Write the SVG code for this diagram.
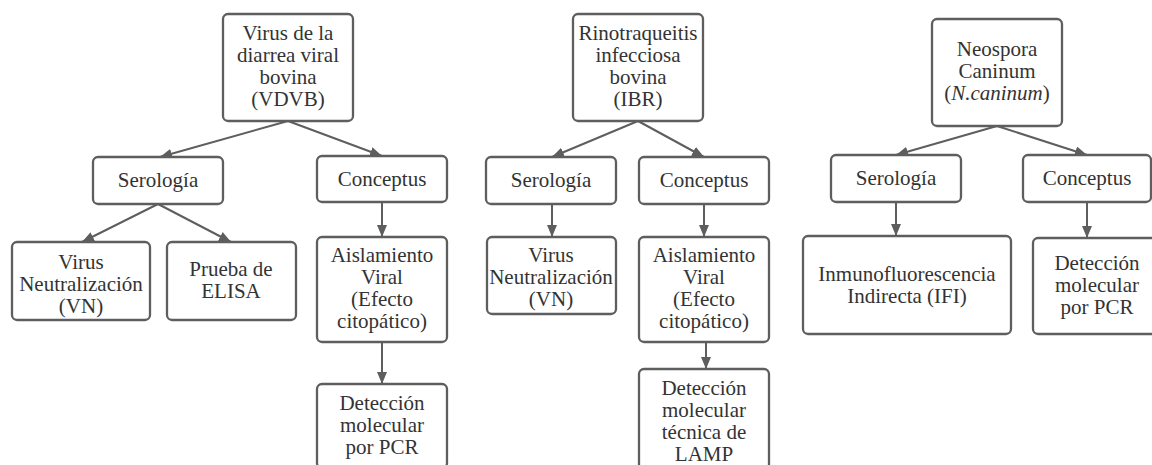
<svg xmlns="http://www.w3.org/2000/svg" width="1152" height="465" viewBox="0 0 1152 465">
<style>
.box{fill:#fff;stroke:#5e5e5e;stroke-width:2.3}
.c{stroke:#5e5e5e;stroke-width:2;fill:none;marker-end:url(#ah)}
</style>
<defs>
<marker id="ah" viewBox="0 0 12 10" refX="12" refY="5" markerWidth="12" markerHeight="10" markerUnits="userSpaceOnUse" orient="auto">
<path d="M0,0 L12,5 L0,10 z" fill="#5e5e5e"/>
</marker>
</defs>
<rect width="1152" height="465" fill="#fff"/>
<g id="connectors">
<line class="c" x1="288" y1="121" x2="160" y2="157"/>
<line class="c" x1="288" y1="121" x2="382" y2="156"/>
<line class="c" x1="158" y1="204" x2="82" y2="242"/>
<line class="c" x1="158" y1="204" x2="231" y2="242"/>
<line class="c" x1="382" y1="202" x2="382" y2="237"/>
<line class="c" x1="382" y1="342" x2="382" y2="384"/>
<line class="c" x1="638" y1="121" x2="552" y2="157"/>
<line class="c" x1="638" y1="121" x2="704" y2="157"/>
<line class="c" x1="552" y1="204" x2="552" y2="237"/>
<line class="c" x1="704" y1="204" x2="704" y2="237"/>
<line class="c" x1="706" y1="342" x2="706" y2="369"/>
<line class="c" x1="997" y1="126" x2="896" y2="155"/>
<line class="c" x1="997" y1="126" x2="1087" y2="155"/>
<line class="c" x1="896" y1="202" x2="896" y2="236"/>
<line class="c" x1="1087" y1="202" x2="1087" y2="238"/>
</g>
<g id="vdvb"><rect class="box" x="223" y="14" width="130" height="107" rx="5"/>
<text font-family="Liberation Serif" font-size="21" fill="#333" text-anchor="middle"><tspan x="288" y="40">Virus de la</tspan><tspan x="288" y="62">diarrea viral</tspan><tspan x="288" y="84">bovina</tspan><tspan x="288" y="106">(VDVB)</tspan></text></g>
<g id="vdvb-serologia"><rect class="box" x="93" y="157" width="130" height="47" rx="5"/>
<text font-family="Liberation Serif" font-size="21" fill="#333" text-anchor="middle" x="158" y="187">Serología</text></g>
<g id="vdvb-conceptus"><rect class="box" x="317" y="156" width="130" height="46" rx="5"/>
<text font-family="Liberation Serif" font-size="21" fill="#333" text-anchor="middle" x="382" y="186">Conceptus</text></g>
<g id="vdvb-vn"><rect class="box" x="12" y="242" width="138" height="78" rx="5"/>
<text font-family="Liberation Serif" font-size="21" fill="#333" text-anchor="middle"><tspan x="81" y="269">Virus</tspan><tspan x="81" y="291">Neutralización</tspan><tspan x="81" y="313">(VN)</tspan></text></g>
<g id="vdvb-elisa"><rect class="box" x="167" y="242" width="129" height="78" rx="5"/>
<text font-family="Liberation Serif" font-size="21" fill="#333" text-anchor="middle"><tspan x="231" y="276">Prueba de</tspan><tspan x="231" y="298">ELISA</tspan></text></g>
<g id="vdvb-aislamiento"><rect class="box" x="317" y="237" width="130" height="105" rx="5"/>
<text font-family="Liberation Serif" font-size="21" fill="#333" text-anchor="middle"><tspan x="382" y="262">Aislamiento</tspan><tspan x="382" y="284">Viral</tspan><tspan x="382" y="306">(Efecto</tspan><tspan x="382" y="328">citopático)</tspan></text></g>
<g id="vdvb-pcr"><rect class="box" x="317" y="384" width="130" height="84" rx="5"/>
<text font-family="Liberation Serif" font-size="21" fill="#333" text-anchor="middle"><tspan x="382" y="410">Detección</tspan><tspan x="382" y="432">molecular</tspan><tspan x="382" y="454">por PCR</tspan></text></g>
<g id="ibr"><rect class="box" x="573" y="14" width="130" height="107" rx="5"/>
<text font-family="Liberation Serif" font-size="21" fill="#333" text-anchor="middle"><tspan x="638" y="40">Rinotraqueitis</tspan><tspan x="638" y="62">infecciosa</tspan><tspan x="638" y="84">bovina</tspan><tspan x="638" y="106">(IBR)</tspan></text></g>
<g id="ibr-serologia"><rect class="box" x="486" y="157" width="130" height="47" rx="5"/>
<text font-family="Liberation Serif" font-size="21" fill="#333" text-anchor="middle" x="551" y="187">Serología</text></g>
<g id="ibr-conceptus"><rect class="box" x="639" y="157" width="130" height="47" rx="5"/>
<text font-family="Liberation Serif" font-size="21" fill="#333" text-anchor="middle" x="704" y="187">Conceptus</text></g>
<g id="ibr-vn"><rect class="box" x="487" y="237" width="129" height="77" rx="5"/>
<text font-family="Liberation Serif" font-size="21" fill="#333" text-anchor="middle"><tspan x="551" y="262">Virus</tspan><tspan x="551" y="284">Neutralización</tspan><tspan x="551" y="306">(VN)</tspan></text></g>
<g id="ibr-aislamiento"><rect class="box" x="639" y="237" width="130" height="105" rx="5"/>
<text font-family="Liberation Serif" font-size="21" fill="#333" text-anchor="middle"><tspan x="704" y="262">Aislamiento</tspan><tspan x="704" y="284">Viral</tspan><tspan x="704" y="306">(Efecto</tspan><tspan x="704" y="328">citopático)</tspan></text></g>
<g id="ibr-lamp"><rect class="box" x="639" y="369" width="130" height="104" rx="5"/>
<text font-family="Liberation Serif" font-size="21" fill="#333" text-anchor="middle"><tspan x="704" y="395">Detección</tspan><tspan x="704" y="417">molecular</tspan><tspan x="704" y="439">técnica de</tspan><tspan x="704" y="461">LAMP</tspan></text></g>
<g id="neospora"><rect class="box" x="932" y="19" width="130" height="107" rx="5"/>
<text font-family="Liberation Serif" font-size="21" fill="#333" text-anchor="middle"><tspan x="997" y="56">Neospora</tspan><tspan x="997" y="78">Caninum</tspan><tspan x="997" y="100">(<tspan font-style="italic">N.caninum</tspan>)</tspan></text></g>
<g id="neo-serologia"><rect class="box" x="831" y="155" width="130" height="47" rx="5"/>
<text font-family="Liberation Serif" font-size="21" fill="#333" text-anchor="middle" x="896" y="185">Serología</text></g>
<g id="neo-conceptus"><rect class="box" x="1023" y="155" width="128" height="47" rx="5"/>
<text font-family="Liberation Serif" font-size="21" fill="#333" text-anchor="middle" x="1087" y="185">Conceptus</text></g>
<g id="neo-ifi"><rect class="box" x="803" y="236" width="208" height="98" rx="5"/>
<text font-family="Liberation Serif" font-size="21" fill="#333" text-anchor="middle"><tspan x="907" y="281">Inmunofluorescencia</tspan><tspan x="907" y="303">Indirecta (IFI)</tspan></text></g>
<g id="neo-pcr"><rect class="box" x="1033" y="238" width="130" height="96" rx="5"/>
<text font-family="Liberation Serif" font-size="21" fill="#333" text-anchor="middle"><tspan x="1097" y="270">Detección</tspan><tspan x="1097" y="292">molecular</tspan><tspan x="1097" y="314">por PCR</tspan></text></g>
</svg>
